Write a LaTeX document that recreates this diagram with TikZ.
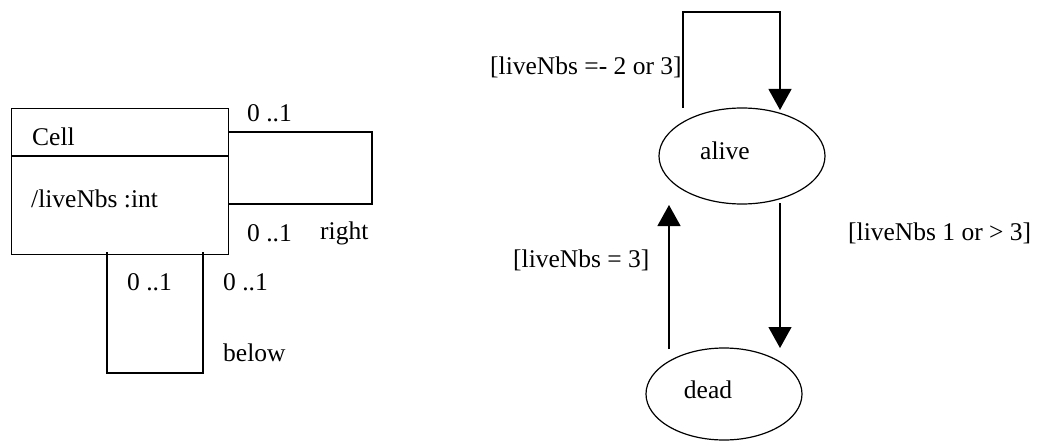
\documentclass[tikz,border=0pt]{standalone}
\usepackage{fontspec}
\setmainfont{Liberation Serif}
\usetikzlibrary{arrows.meta,shapes.geometric}
\begin{document}
\begin{tikzpicture}[x=1pt,y=-1pt,
  every node/.style={font=\fontsize{25.5}{30}\selectfont},
  lbl/.style={inner sep=0pt, anchor=west},
  line/.style={line width=1.2pt},
  state/.style={draw, ellipse, line width=1.2pt, inner sep=0pt},
  arr/.style={line width=1.2pt, -{Triangle[length=21pt,width=23pt]}}]
\useasboundingbox (0,0) rectangle (1044,441);

% class box
\node[draw, line width=1.2pt, minimum width=217pt, minimum height=146pt, inner sep=0pt, anchor=north west] (cell) at (11,108) {};
\draw[line] (11,156) -- (228,156);
\node[lbl] (cname) at (32,137) {Cell};
\node[lbl] (attr) at (31,199) {/liveNbs :int};

% self association "right"
\coordinate (r1) at (228,132);
\coordinate (r2) at (228,204);
\draw[line] (r1) -- (372,132) -- (372,204) -- (r2);
\node[lbl] (m1) at (247,113) {0 ..1};
\node[lbl] (m2) at (247,233) {0 ..1};
\node[lbl] (rright) at (320,233) {right};

% self association "below"
\coordinate (b1) at (107,252);
\coordinate (b2) at (203,252);
\draw[line] (b1) -- (107,373) -- (203,373) -- (b2);
\node[lbl] (m3) at (127,282) {0 ..1};
\node[lbl] (m4) at (223,282) {0 ..1};
\node[lbl] (rbelow) at (223,353) {below};

% state machine
\node[state, minimum width=166pt, minimum height=96pt] (alive) at (742,156) {};
\node[inner sep=0pt] (alivet) at (725,151) {alive};
\node[state, minimum width=156pt, minimum height=92pt] (dead) at (724,394) {};
\node[inner sep=0pt] (deadt) at (708,390) {dead};

\coordinate (s1) at (683,108);
\coordinate (s2) at (780,110);
\draw[arr] (s1) -- (683,12) -- (780,12) -- (s2);
\node[lbl] (g1) at (490,67) {[liveNbs =- 2 or 3]};

\coordinate (u1) at (669,349);
\coordinate (u2) at (669,205);
\draw[arr] (u1) -- (u2);
\node[lbl] (g2) at (513,260) {[liveNbs = 3]};

\coordinate (d1) at (780,203);
\coordinate (d2) at (780,348);
\draw[arr] (d1) -- (d2);
\node[lbl] (g3) at (848,233) {[liveNbs 1 or > 3]};
\end{tikzpicture}
\end{document}
